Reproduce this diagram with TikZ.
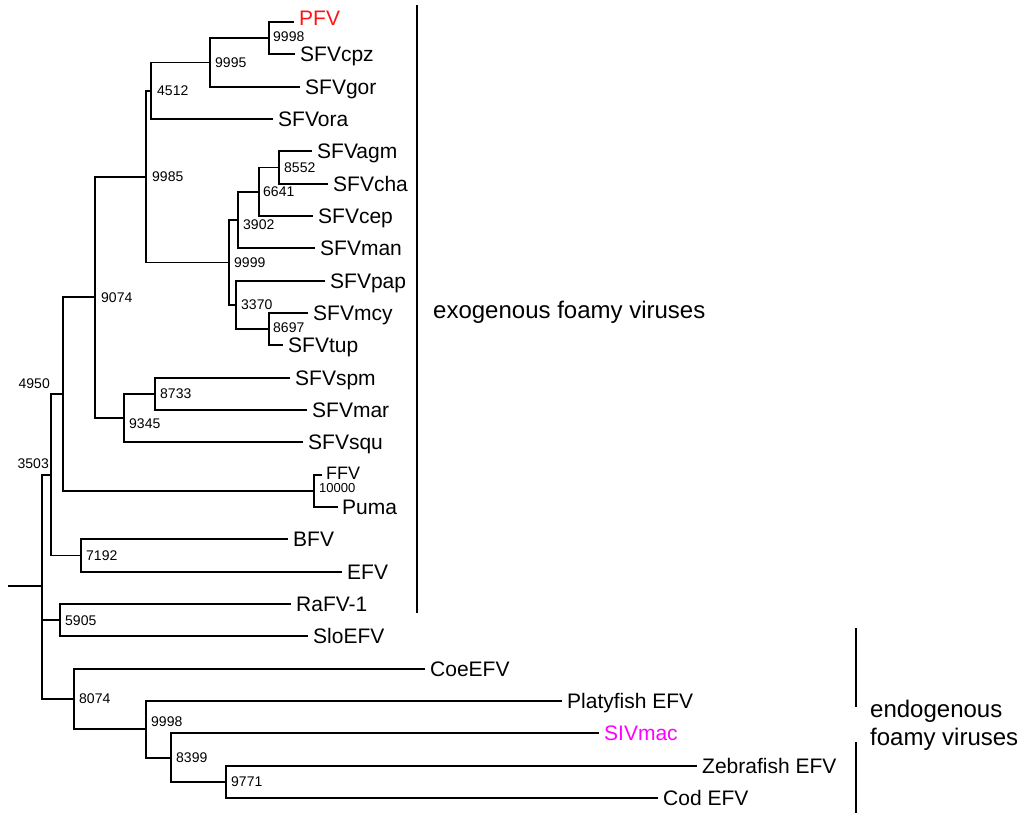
\documentclass[tikz,border=0pt]{standalone}
\usepackage{fontspec}
\setmainfont{Liberation Sans}
\usetikzlibrary{positioning}
\definecolor{pfvred}{RGB}{255,20,20}
\definecolor{sivpink}{RGB}{255,0,255}

\begin{document}
\begin{tikzpicture}[
    x=1pt, y=-1pt,
    branch/.style={line width=1.8pt},
    leaf/.style={font=\fontsize{21}{25}\selectfont, inner sep=0pt, text height=15pt, text depth=0pt},
    boot/.style={font=\fontsize{14}{16}\selectfont, inner sep=0pt},
    group/.style={font=\fontsize{24}{28}\selectfont, inner sep=0pt, align=left}
]
  \useasboundingbox (0,0) rectangle (1024,820);
  % internal nodes sit on their vertical line, halfway between the children
  \coordinate (stem) at (8,586);
  \coordinate (root) at (42,586);
  \coordinate (n3503) at (51,474.8);
  \coordinate (n4950) at (63,394);
  \coordinate (n9074) at (95,297.3);
  \coordinate (n9985) at (146,176.6);
  \coordinate (n4512) at (151,90.7);
  \coordinate (n9995) at (210,62.4);
  \coordinate (n9998a) at (269,38.2);
  \coordinate (n9999) at (229,262.5);
  \coordinate (n3902) at (238,220);
  \coordinate (n6641) at (259,191.8);
  \coordinate (n8552) at (279,167.5);
  \coordinate (n3370) at (236,305);
  \coordinate (n8697) at (269,329.2);
  \coordinate (n9345) at (124,418);
  \coordinate (n8733) at (155,393.8);
  \coordinate (n10000) at (314,490.8);
  \coordinate (n7192) at (81,555.5);
  \coordinate (n5905) at (60,620.2);
  \coordinate (n8074) at (74,699);
  \coordinate (n9998b) at (146,729.3);
  \coordinate (n8399) at (171,757.6);
  \coordinate (n9771) at (226,781.8);

  % tips and their names
  \coordinate (tPFV) at (294,22);       \node[leaf, right=5pt of tPFV, yshift=4pt, text=pfvred] (PFV) {PFV};
  \coordinate (tSFVcpz) at (295,54.3);  \node[leaf, right=5pt of tSFVcpz] (SFVcpz) {SFVcpz};
  \coordinate (tSFVgor) at (300,86.7);  \node[leaf, right=5pt of tSFVgor] (SFVgor) {SFVgor};
  \coordinate (tSFVora) at (273,119);   \node[leaf, right=5pt of tSFVora] (SFVora) {SFVora};
  \coordinate (tSFVagm) at (312,151.3); \node[leaf, right=5pt of tSFVagm] (SFVagm) {SFVagm};
  \coordinate (tSFVcha) at (328,183.7); \node[leaf, right=5pt of tSFVcha] (SFVcha) {SFVcha};
  \coordinate (tSFVcep) at (313,216);   \node[leaf, right=5pt of tSFVcep] (SFVcep) {SFVcep};
  \coordinate (tSFVman) at (315,248.3); \node[leaf, right=5pt of tSFVman] (SFVman) {SFVman};
  \coordinate (tSFVpap) at (325,280.7); \node[leaf, right=5pt of tSFVpap] (SFVpap) {SFVpap};
  \coordinate (tSFVmcy) at (308,313);   \node[leaf, right=5pt of tSFVmcy] (SFVmcy) {SFVmcy};
  \coordinate (tSFVtup) at (283,345.3); \node[leaf, right=5pt of tSFVtup] (SFVtup) {SFVtup};
  \coordinate (tSFVspm) at (290,377.7); \node[leaf, right=5pt of tSFVspm] (SFVspm) {SFVspm};
  \coordinate (tSFVmar) at (307,410);   \node[leaf, right=5pt of tSFVmar] (SFVmar) {SFVmar};
  \coordinate (tSFVsqu) at (303,442.3); \node[leaf, right=5pt of tSFVsqu] (SFVsqu) {SFVsqu};
  \coordinate (tFFV) at (322,474.7);    \node[leaf, right=4pt of tFFV, font=\fontsize{18}{20}\selectfont, text height=13pt, yshift=2pt] (FFV) {FFV};
  \coordinate (tPuma) at (338,507);     \node[leaf, right=4pt of tPuma] (Puma) {Puma};
  \coordinate (tBFV) at (288,539.3);    \node[leaf, right=5pt of tBFV] (BFV) {BFV};
  \coordinate (tEFV) at (342,571.7);    \node[leaf, right=5pt of tEFV] (EFV) {EFV};
  \coordinate (tRaFV) at (291,604);     \node[leaf, right=5pt of tRaFV] (RaFV) {RaFV-1};
  \coordinate (tSloEFV) at (308,636.3); \node[leaf, right=5pt of tSloEFV] (SloEFV) {SloEFV};
  \coordinate (tCoeEFV) at (425,668.7); \node[leaf, right=5pt of tCoeEFV] (CoeEFV) {CoeEFV};
  \coordinate (tPlaty) at (562,701);    \node[leaf, right=5pt of tPlaty] (Platy) {Platyfish EFV};
  \coordinate (tSIVmac) at (599,733.3); \node[leaf, right=5pt of tSIVmac, text=sivpink] (SIVmac) {SIVmac};
  \coordinate (tZebra) at (697,765.7);  \node[leaf, right=5pt of tZebra] (Zebra) {Zebrafish EFV};
  \coordinate (tCod) at (658,798);      \node[leaf, right=5pt of tCod] (Cod) {Cod EFV};

  % branches
  \draw[branch] (stem) -- (root);
  \draw[branch] (n3503) -| (root) |- (n8074);
  \draw[branch] (root) |- (n5905);
  \draw[branch] (n4950) -| (n3503) |- (n7192);
  \draw[branch] (n9074) -| (n4950) |- (n10000);
  \draw[branch] (n9985) -| (n9074) |- (n9345);
  \draw[branch] (n4512) -| (n9985) |- (n9999);
  \draw[branch] (n9995) -| (n4512) |- (tSFVora);
  \draw[branch] (n9998a) -| (n9995) |- (tSFVgor);
  \draw[branch] (tPFV) -| (n9998a) |- (tSFVcpz);
  \draw[branch] (n3902) -| (n9999) |- (n3370);
  \draw[branch] (n6641) -| (n3902) |- (tSFVman);
  \draw[branch] (n8552) -| (n6641) |- (tSFVcep);
  \draw[branch] (tSFVagm) -| (n8552) |- (tSFVcha);
  \draw[branch] (tSFVpap) -| (n3370) |- (n8697);
  \draw[branch] (tSFVmcy) -| (n8697) |- (tSFVtup);
  \draw[branch] (n8733) -| (n9345) |- (tSFVsqu);
  \draw[branch] (tSFVspm) -| (n8733) |- (tSFVmar);
  \draw[branch] (tFFV) -| (n10000) |- (tPuma);
  \draw[branch] (tBFV) -| (n7192) |- (tEFV);
  \draw[branch] (tRaFV) -| (n5905) |- (tSloEFV);
  \draw[branch] (tCoeEFV) -| (n8074) |- (n9998b);
  \draw[branch] (tPlaty) -| (n9998b) |- (n8399);
  \draw[branch] (tSIVmac) -| (n8399) |- (n9771);
  \draw[branch] (tZebra) -| (n9771) |- (tCod);

  % bootstrap support
  \node[boot, left=2pt of n3503, yshift=11pt] (b3503) {3503};
  \node[boot, left=13pt of n4950, yshift=10pt] (b4950) {4950};
  \node[boot, right=6pt of n9074] (b9074) {9074};
  \node[boot, right=6pt of n9985] (b9985) {9985};
  \node[boot, right=6pt of n4512] (b4512) {4512};
  \node[boot, right=5pt of n9995] (b9995) {9995};
  \node[boot, right=4pt of n9998a, yshift=2pt] (b9998a) {9998};
  \node[boot, right=5pt of n9999] (b9999) {9999};
  \node[boot, right=5pt of n3902, yshift=-5pt] (b3902) {3902};
  \node[boot, right=4pt of n6641] (b6641) {6641};
  \node[boot, right=5pt of n8552] (b8552) {8552};
  \node[boot, right=5pt of n3370] (b3370) {3370};
  \node[boot, right=4pt of n8697, yshift=2pt] (b8697) {8697};
  \node[boot, right=5pt of n9345, yshift=-6pt] (b9345) {9345};
  \node[boot, right=5pt of n8733] (b8733) {8733};
  \node[boot, right=5pt of n10000, yshift=3pt, font=\fontsize{13}{15}\selectfont] (b10000) {10000};
  \node[boot, right=5pt of n7192] (b7192) {7192};
  \node[boot, right=5pt of n5905] (b5905) {5905};
  \node[boot, right=5pt of n8074] (b8074) {8074};
  \node[boot, right=5pt of n9998b, yshift=8pt] (b9998b) {9998};
  \node[boot, right=5pt of n8399] (b8399) {8399};
  \node[boot, right=5pt of n9771] (b9771) {9771};

  % groups
  \coordinate (exoTop) at (417,5);
  \coordinate (exoBot) at (417,613);
  \draw[branch] (exoTop) -- (exoBot);
  \node[group, anchor=west] (exo) at (433,312) {exogenous foamy viruses};
  \coordinate (endoA) at (856,628);
  \coordinate (endoB) at (856,707);
  \coordinate (endoC) at (856,742);
  \coordinate (endoD) at (856,813);
  \draw[branch] (endoA) -- (endoB);
  \draw[branch] (endoC) -- (endoD);
  \node[group, anchor=west] (endo) at (870,725) {endogenous\\foamy viruses};
\end{tikzpicture}
\end{document}
